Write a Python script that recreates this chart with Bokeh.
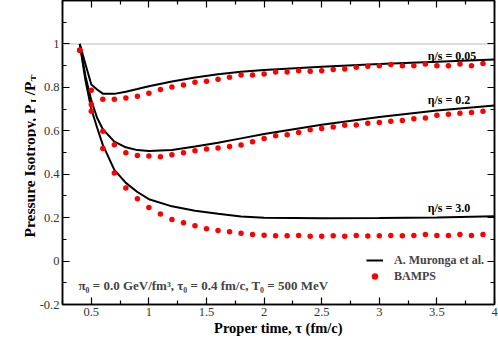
import numpy as np
from bokeh.plotting import figure
from bokeh.layouts import row
from bokeh.models import (LinearAxis, FixedTicker, Span, Label, Legend,
                          LegendItem, Range1d)
from bokeh.core.properties import value
from bokeh.embed import file_html
from bokeh.resources import INLINE

# ---------------- data ----------------
tau_bamps = [0.4, 0.5, 0.6, 0.7, 0.8, 0.9, 1.0, 1.1, 1.2, 1.3, 1.4, 1.5,
             1.6, 1.7, 1.8, 1.9, 2.0, 2.1, 2.2, 2.3, 2.4, 2.5, 2.6, 2.7,
             2.8, 2.9, 3.0, 3.1, 3.2, 3.3, 3.4, 3.5, 3.6, 3.7, 3.8, 3.9]
bamps_eta005 = [0.971, 0.787, 0.745, 0.745, 0.751, 0.759, 0.773, 0.790, 0.802,
                0.811, 0.823, 0.828, 0.837, 0.846, 0.857, 0.857, 0.862, 0.871,
                0.871, 0.876, 0.874, 0.876, 0.882, 0.884, 0.893, 0.897, 0.900,
                0.905, 0.900, 0.900, 0.908, 0.900, 0.900, 0.908, 0.900, 0.910]
bamps_eta02 = [0.971, 0.721, 0.598, 0.536, 0.499, 0.486, 0.484, 0.481, 0.490,
               0.499, 0.508, 0.516, 0.521, 0.528, 0.534, 0.550, 0.565, 0.577,
               0.582, 0.592, 0.605, 0.611, 0.618, 0.625, 0.627, 0.635, 0.638,
               0.644, 0.647, 0.656, 0.659, 0.671, 0.676, 0.681, 0.684, 0.690]
bamps_eta3 = [0.971, 0.690, 0.518, 0.406, 0.336, 0.287, 0.247, 0.217, 0.192,
              0.177, 0.163, 0.149, 0.141, 0.135, 0.128, 0.122, 0.119, 0.117,
              0.117, 0.118, 0.114, 0.114, 0.117, 0.114, 0.118, 0.115, 0.117,
              0.118, 0.117, 0.118, 0.122, 0.118, 0.118, 0.122, 0.118, 0.122]

tau_hydro = [0.4, 0.45, 0.5, 0.55, 0.6, 0.7, 0.8, 0.9, 1.0, 1.2, 1.4, 1.6,
             1.8, 2.0, 2.5, 3.0, 3.5, 4.0]
hydro_eta005 = [1.0, 0.905, 0.813, 0.790, 0.771, 0.770, 0.780, 0.792, 0.805,
                0.827, 0.845, 0.860, 0.872, 0.880, 0.895, 0.907, 0.918, 0.928]
hydro_eta02 = [1.0, 0.850, 0.740, 0.660, 0.607, 0.550, 0.524, 0.511, 0.507,
               0.512, 0.528, 0.545, 0.565, 0.585, 0.628, 0.664, 0.693, 0.716]
hydro_eta3 = [1.0, 0.830, 0.700, 0.615, 0.535, 0.420, 0.360, 0.318, 0.285,
              0.252, 0.232, 0.218, 0.205, 0.200, 0.197, 0.198, 0.201, 0.206]

x_ticks = [0.5, 1.0, 1.5, 2.0, 2.5, 3.0, 3.5, 4.0]
x_tick_labels = ["0.5", "1", "1.5", "2", "2.5", "3", "3.5", "4"]
x_minor = [0.25, 0.75, 1.25, 1.75, 2.25, 2.75, 3.25, 3.75]
y_ticks = [-0.2, 0.0, 0.2, 0.4, 0.6, 0.8, 1.0]
y_tick_labels = ["-0.2", "0", "0.2", "0.4", "0.6", "0.8", "1"]
y_minor = [-0.1, 0.1, 0.3, 0.5, 0.7, 0.9, 1.1]

curve_labels = ["\u03b7/s = 0.05", "\u03b7/s = 0.2", "\u03b7/s = 3.0"]
curve_label_x = [3.42, 3.42, 3.42]
curve_label_y = [0.943, 0.741, 0.243]

x_title = "Proper time, \u03c4 (fm/c)"
y_title_parts = ["Pressure Isotropy, P", "L", "/P", "T"]
note_text = "\u03c0\u2080 = 0.0 GeV/fm\u00b3, \u03c4\u2080 = 0.4 fm/c, T\u2080 = 500 MeV"

# ---------------- layout ----------------
TOTAL_W, TOTAL_H = 498, 340
STRIP_W = 36
W = TOTAL_W - STRIP_W
FL, FR, FT, FB = 61, 494, 0, 304   # frame edges in picture px
X0, X1, Y0, Y1 = 0.25, 4.0, -0.2, 1.2

def px2x(px):
    return X0 + (px - FL) * (X1 - X0) / (FR - FL)

def py2y(py):
    return Y0 + (FB - py) * (Y1 - Y0) / (FB - FT)

FONT = "Liberation Serif, Times New Roman, serif"

p = figure(width=W, height=TOTAL_H, x_range=Range1d(X0, X1),
           y_range=Range1d(Y0, Y1), output_backend="svg",
           toolbar_location=None)
p.min_border = 0
p.min_border_left = FL - STRIP_W
p.min_border_right = TOTAL_W - FR
p.min_border_top = FT
p.min_border_bottom = TOTAL_H - FB
p.xgrid.visible = False
p.ygrid.visible = False
p.outline_line_color = "black"
p.outline_line_width = 1.5
p.background_fill_color = "white"
p.border_fill_color = "white"


def style_axis(ax, ticks, minor, labels, show):
    ax.ticker = FixedTicker(ticks=ticks, minor_ticks=minor)
    ax.major_tick_in = 7
    ax.major_tick_out = 0
    ax.minor_tick_in = 4
    ax.minor_tick_out = 0
    ax.axis_line_color = "black"
    ax.axis_line_width = 1.5
    ax.major_tick_line_color = "black"
    ax.minor_tick_line_color = "black"
    ax.major_tick_line_width = 1.2
    ax.minor_tick_line_width = 1.2
    if show:
        ax.major_label_overrides = dict(zip(ticks, labels))
        ax.major_label_text_font = FONT
        ax.major_label_text_font_size = "12.5px"
        ax.major_label_text_color = "#333333"
        ax.major_label_standoff = 3
    else:
        ax.major_label_overrides = {t: "" for t in ticks}
        ax.major_label_text_font_size = "0px"
        ax.major_label_standoff = 0


style_axis(p.xaxis[0], x_ticks, x_minor, x_tick_labels, True)
style_axis(p.yaxis[0], y_ticks, y_minor, y_tick_labels, True)
p.xaxis[0].axis_label = x_title
p.xaxis[0].axis_label_text_font = FONT
p.xaxis[0].axis_label_text_font_size = "14.5px"
p.xaxis[0].axis_label_text_font_style = "bold"
p.xaxis[0].axis_label_text_color = "black"
p.xaxis[0].axis_label_standoff = 1
top_ax = LinearAxis()
style_axis(top_ax, x_ticks, x_minor, x_tick_labels, False)
p.add_layout(top_ax, "above")
right_ax = LinearAxis()
style_axis(right_ax, y_ticks, y_minor, y_tick_labels, False)
p.add_layout(right_ax, "right")

p.add_layout(Span(location=1.0, dimension="width", line_color="#dddddd",
                  line_width=2, level="underlay"))

# ---------------- series ----------------
r_line = None
for vals in (hydro_eta005, hydro_eta02, hydro_eta3):
    r = p.line(tau_hydro, vals, line_color="black", line_width=2)
    if r_line is None:
        r_line = r
r_dot = None
for vals in (bamps_eta005, bamps_eta02, bamps_eta3):
    r = p.scatter(tau_bamps, vals, marker="circle", size=5.5,
                  fill_color="#ff0000", line_color=None)
    if r_dot is None:
        r_dot = r

for t, x, y in zip(curve_labels, curve_label_x, curve_label_y):
    p.add_layout(Label(x=x, y=y, text=t, text_font=FONT, text_font_size="12px",
                       text_font_style="bold", text_color="black",
                       text_align="left", text_baseline="alphabetic"))

p.add_layout(Label(x=px2x(77), y=py2y(285), text=note_text,
                   text_font=FONT, text_font_size="13px", text_font_style="bold",
                   text_align="left", text_baseline="alphabetic"))

legend = Legend(items=[LegendItem(label="A. Muronga et al.", renderers=[r_line]),
                       LegendItem(label="BAMPS", renderers=[r_dot])],
                location=(365 - FL, FB - 284), padding=0, margin=0, spacing=0,
                glyph_width=17, glyph_height=16, label_height=16,
                label_standoff=11, label_text_font=FONT,
                label_text_font_size="12px", label_text_font_style="bold",
                border_line_color=None, background_fill_alpha=0)
p.add_layout(legend)

# ---------------- y axis title strip (for subscripts) ----------------
# same vertical borders as the main plot, so the same y mapping applies
s = figure(width=STRIP_W, height=TOTAL_H, x_range=Range1d(0, STRIP_W),
           y_range=Range1d(Y0, Y1), output_backend="svg",
           toolbar_location=None, x_axis_location=None, y_axis_location=None)
s.min_border = 0
s.min_border_top = FT
s.min_border_bottom = TOTAL_H - FB
s.xgrid.visible = False
s.ygrid.visible = False
s.outline_line_color = None
s.background_fill_color = "white"
s.border_fill_color = "white"

ms, ss = 15.5, 10.5
base_x, sub_x = 29.0, 33.5
sizes = [ms, ss, ms, ss]
xs = [base_x, sub_x, base_x, sub_x]
widths = [8.693 * ms, 0.667 * ss + 0.5, 0.889 * ms, 0.667 * ss]
ypos = 237.0
for txt, fs, bx, w in zip(y_title_parts, sizes, xs, widths):
    s.text(x=[bx], y=[py2y(ypos)], text=[txt], angle=np.pi / 2,
           text_font=value(FONT), text_font_size=f"{fs}px",
           text_font_style="bold", text_color="black",
           text_align="left", text_baseline="alphabetic")
    ypos -= w

layout = row(s, p, spacing=0)
open("out.html", "w").write(file_html(layout, INLINE))
